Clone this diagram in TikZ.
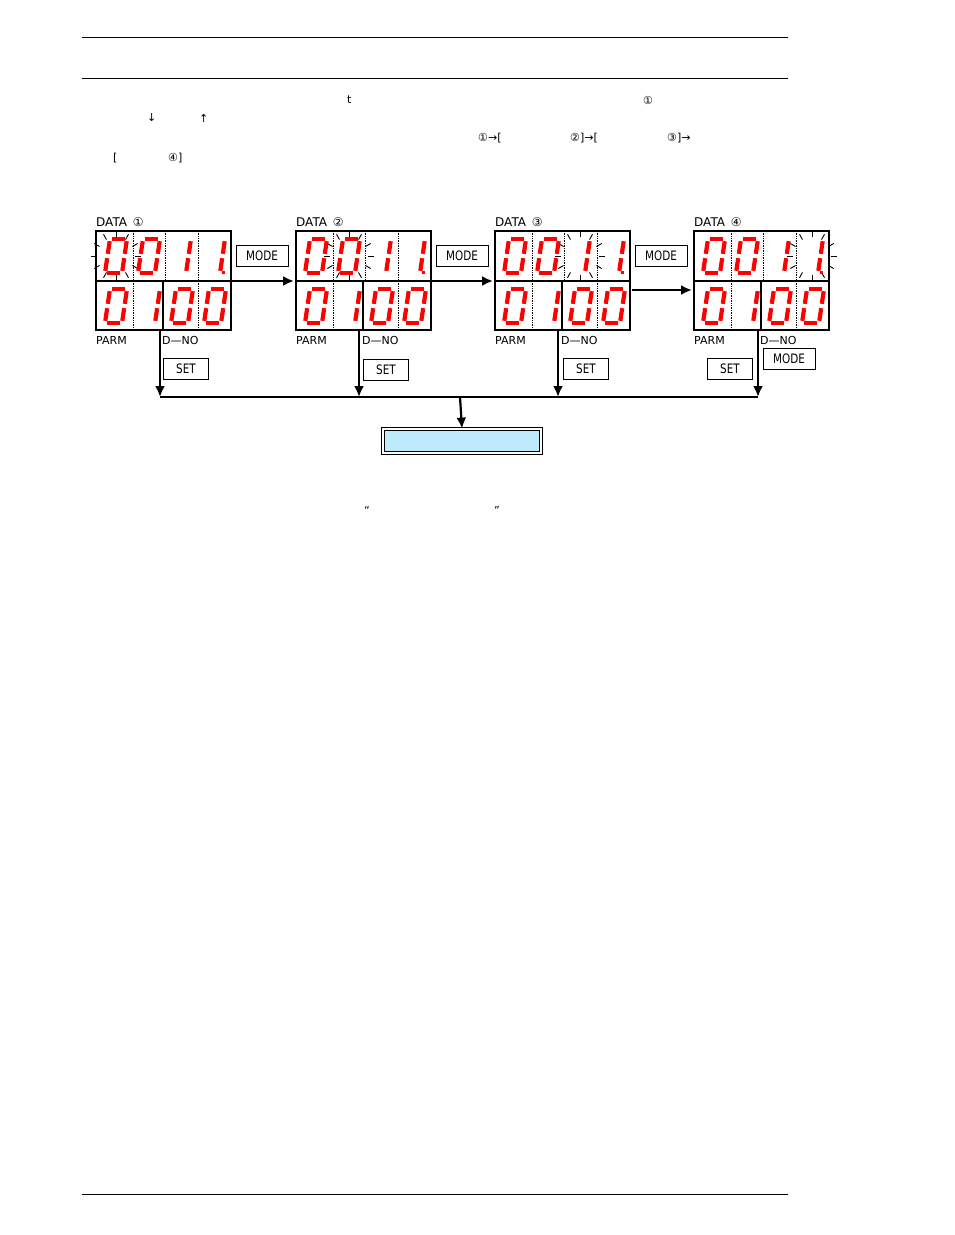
\documentclass[tikz,border=0pt]{standalone}
\usepackage{fontspec}
\setmainfont{DejaVu Sans}
\begin{document}
\begin{tikzpicture}[x=1pt,y=-1pt,
  seg/.style={red,line width=4.2pt,shorten <=2.2pt,shorten >=2.2pt,line cap=butt},
  lbl/.style={inner sep=0pt,anchor=west,font=\fontsize{11}{11}\selectfont},
  keybox/.style={draw,line width=0.8pt,minimum width=52pt,minimum height=21pt,inner sep=0pt,font=\fontsize{13}{13}\selectfont\addfontfeatures{FakeStretch=0.8}},
  setbox/.style={keybox,minimum width=45pt},
  ray/.style={line width=0.9pt},
  conn/.style={line width=2.2pt},
  tip/.style={-{Latex[length=11pt,width=10pt]}}]
\useasboundingbox (0,0) rectangle (954,1235);
\usetikzlibrary{arrows.meta}
\draw[line width=0.7pt] (82,37)--(788,37) (82,78)--(788,78) (82,1194)--(788,1194);
% header text fragments
\node[lbl] at (347,100) {t};
\node[lbl] at (643,100) {①};
\node[lbl] at (147,118) {↓};
\node[lbl] at (199,118) {↑};
\node[lbl] at (478,138) {①→[};
\node[lbl] at (570,138) {②]→[};
\node[lbl] at (667,138) {③]→};
\node[lbl] at (113,158) {[};
\node[lbl] at (168,158) {④]};
\node[lbl] at (364,510) {“};
\node[lbl] at (494,510) {”};
% digit macros
\newcommand\dzero[2]{\begin{scope}[shift={(#1,#2)}]
 \draw[seg] (11,0)--(28,0); \draw[seg] (28,0)--(25.5,17); \draw[seg] (25.5,17)--(23,34);
 \draw[seg] (23,34)--(6,34); \draw[seg] (6,34)--(8.5,17); \draw[seg] (8.5,17)--(11,0);\end{scope}}
\newcommand\done[2]{\begin{scope}[shift={(#1,#2)}]
 \draw[seg] (28,0)--(25.5,17); \draw[seg] (25.5,17)--(23,34);\end{scope}}
\newcommand\dpt[2]{\fill[red] (#1+24.5,#2+35) rectangle ++(3.5,-3);}
\newcommand\blink[2]{\begin{scope}[shift={(#1,#2)}]
 \foreach \a in {0,30,...,330}{\draw[ray] (\a:19) -- (\a:25);}\end{scope}}
\newcommand\panel[3]{% x, number, blink column
 \begin{scope}[shift={(#1,0)}]
 \draw[line width=2pt] (0,231) rectangle (135,330);
 \draw[line width=1.6pt] (0,281)--(135,281) (67,281)--(67,330);
 \draw[densely dotted,line width=0.7pt] (37,231)--(37,281) (69,231)--(69,281) (102,231)--(102,281)
   (37,281)--(37,330) (102,281)--(102,330);
 \ifnum#3=1 \blink{20}{256}\fi
 \ifnum#3=2 \blink{53}{256}\fi
 \ifnum#3=3 \blink{85}{256}\fi
 \ifnum#3=4 \blink{118}{256}\fi
 \dzero{3}{239}\dzero{36}{239}\done{67}{239}\done{101}{239}\dpt{101}{239}
 \dzero{3}{289}\done{36}{289}\dzero{69}{289}\dzero{102}{289}
 \node[lbl,font=\fontsize{12}{12}\selectfont] at (0,222) {DATA \,#2};
 \node[lbl,font=\fontsize{11}{11}\selectfont] at (0,340) {PARM};
 \node[lbl,font=\fontsize{11}{11}\selectfont] at (66,340) {D—NO};
 \end{scope}}
\panel{96}{①}{1}
\panel{296}{②}{2}
\panel{495}{③}{3}
\panel{694}{④}{4}
\node[coordinate] (p1r) at (232,281) {}; \node[coordinate] (p2l) at (294,281) {};
\node[coordinate] (p2r) at (432,281) {}; \node[coordinate] (p3l) at (493,281) {};
\node[coordinate] (p3r) at (632,290) {}; \node[coordinate] (p4l) at (692,290) {};
\draw[conn,tip] (p1r)--(p2l);
\draw[conn,tip] (p2r)--(p3l);
\draw[conn,tip] (p3r)--(p4l);
\node[keybox] (m1) at (262,256) {MODE};
\node[keybox] (m2) at (462,256) {MODE};
\node[keybox] (m3) at (661,256) {MODE};
\node[keybox] (m4) at (789,359) {MODE};
\node[setbox] (s1) at (186,369) {SET};
\node[setbox] (s2) at (386,370) {SET};
\node[setbox] (s3) at (586,369) {SET};
\node[setbox] (s4) at (730,369) {SET};
\foreach \i/\x in {1/160,2/359,3/558,4/758}{
  \coordinate (t\i) at (\x,330); \coordinate (b\i) at (\x,397);
  \draw[conn,tip] (t\i)--(b\i);}
\draw[conn] (b1)--(b4);
\coordinate (bm) at (460,397);
\node[draw,double,double distance=1.5pt,line width=0.8pt,fill=cyan!25,minimum width=158pt,minimum height=24pt] (res) at (462,441) {};
\draw[conn,tip] (bm)--(res.north);
\end{tikzpicture}
\end{document}
